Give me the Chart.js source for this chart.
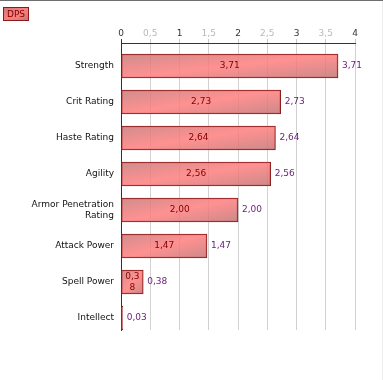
<!DOCTYPE html>
<html>
<head>
<meta charset="utf-8">
<script src="https://cdn.jsdelivr.net/npm/chart.js@4/dist/chart.umd.min.js"></script>
<style>
  html, body { margin: 0; padding: 0; background: #fff; }
  #wrap { position: relative; width: 383px; height: 380px; }
  canvas { display: block; }
</style>
</head>
<body>
<div id="wrap"><canvas id="c" width="383" height="380"></canvas></div>
<script>
// ---- data ----
const categories = ["Strength", "Crit Rating", "Haste Rating", "Agility", ["Armor Penetration", "Rating"], "Attack Power", "Spell Power", "Intellect"];
const dpsValues = [3.71, 2.73, 2.64, 2.56, 2.00, 1.47, 0.38, 0.03];
const seriesName = "DPS";
const xTicks = [0, 0.5, 1, 1.5, 2, 2.5, 3, 3.5, 4];

const FONT = "'DejaVu Sans', Verdana, sans-serif";
const fmt = v => v.toFixed(2).replace('.', ',');
const tickFmt = v => String(v).replace('.', ',');

function barGradient(ctx, x0, y0, x1, y1, alpha) {
  const fallback = `rgba(245,124,124,${alpha})`;
  if (![x0, y0, x1, y1].every(Number.isFinite)) return fallback;
  const w = x1 - x0, h = y1 - y0;
  const cx = (x0 + x1) / 2, cy = (y0 + y1) / 2;
  const len2 = w * w + h * h;
  if (!(len2 > 0)) return fallback;
  const k = w * h / len2;
  const g = ctx.createLinearGradient(cx - h * k, cy - w * k, cx + h * k, cy + w * k);
  g.addColorStop(0, `rgba(200,120,120,${alpha})`);
  g.addColorStop(0.5, `rgba(255,126,126,${alpha})`);
  g.addColorStop(1, `rgba(196,116,116,${alpha})`);
  return g;
}

const decorPlugin = {
  id: 'decor',
  afterDraw(chart) {
    const ctx = chart.ctx;
    ctx.save();
    ctx.fillStyle = '#6e6e6e';
    ctx.fillRect(0, 0, chart.width, 1);
    ctx.fillStyle = '#eeeeee';
    ctx.fillRect(chart.width - 1, 1, 1, chart.height - 1);
    const lx = 3, ly = 7, lw = 26, lh = 14;
    ctx.fillStyle = barGradient(ctx, lx, ly, lx + lw, ly + lh, 1);
    ctx.fillRect(lx, ly, lw, lh);
    ctx.strokeStyle = '#8b1a1a';
    ctx.lineWidth = 1;
    ctx.strokeRect(lx + 0.5, ly + 0.5, lw - 1, lh - 1);
    ctx.fillStyle = '#7a0000';
    ctx.font = '9px ' + FONT;
    ctx.textAlign = 'center';
    ctx.textBaseline = 'middle';
    ctx.fillText(seriesName, lx + lw / 2, ly + lh / 2 + 0.5);
    ctx.restore();
  },
  afterDatasetsDraw(chart) {
    const ctx = chart.ctx;
    const meta = chart.getDatasetMeta(0);
    ctx.save();
    ctx.font = '9px ' + FONT;
    ctx.textBaseline = 'middle';
    meta.data.forEach((el, i) => {
      const v = dpsValues[i];
      const txt = fmt(v);
      const left = Math.min(el.base, el.x), right = Math.max(el.base, el.x);
      const bw = right - left;
      const avail = bw - 4;
      const lines = [];
      let cur = '';
      let ok = true;
      for (const ch of txt) {
        if (ctx.measureText(cur + ch).width <= avail) cur += ch;
        else {
          if (!cur) { ok = false; break; }
          lines.push(cur); cur = ch;
          if (ctx.measureText(cur).width > avail) { ok = false; break; }
        }
      }
      if (cur) lines.push(cur);
      if (ok && lines.length) {
        ctx.fillStyle = '#800000';
        ctx.textAlign = 'center';
        const lh = 11;
        const y0 = el.y - (lines.length - 1) * lh / 2;
        lines.forEach((ln, j) => ctx.fillText(ln, (left + right) / 2, y0 + j * lh));
      }
      ctx.fillStyle = '#6a1b78';
      ctx.textAlign = 'left';
      ctx.fillText(txt, right + 4, el.y);
    });
    ctx.restore();
  }
};

new Chart(document.getElementById('c'), {
  type: 'bar',
  data: {
    datasets: [{
      label: seriesName,
      data: dpsValues.map((v, i) => ({ x: v, y: i })),
      barThickness: 24,
      borderWidth: 1,
      borderSkipped: false,
      borderColor: '#8b1a1a',
      backgroundColor(context) {
        const chart = context.chart;
        const xs = chart.scales && chart.scales.x, ys = chart.scales && chart.scales.y;
        if (!xs || !ys || !context.raw || !chart.chartArea) return 'rgba(245,124,124,0.85)';
        const yc = ys.getPixelForValue(context.raw.y);
        const x0 = xs.getPixelForValue(0), x1 = xs.getPixelForValue(context.raw.x);
        return barGradient(chart.ctx, x0, yc - 12, Math.max(x1, x0 + 1), yc + 12, 0.85);
      }
    }]
  },
  options: {
    indexAxis: 'y',
    responsive: false,
    maintainAspectRatio: false,
    animation: false,
    devicePixelRatio: 1,
    layout: { padding: { left: 0, top: 0, right: 28, bottom: 50 } },
    plugins: { legend: { display: false }, tooltip: { enabled: false } },
    scales: {
      x: {
        type: 'linear',
        position: 'top',
        min: 0, max: 4,
        afterBuildTicks(scale) { scale.ticks = xTicks.map(v => ({ value: v })); },
        afterFit(scale) { scale.height = 43; },
        ticks: {
          font: { family: FONT, size: 9 },
          padding: 0,
          callback: v => tickFmt(v),
          color: ctx => (ctx.tick && Number.isInteger(ctx.tick.value) ? '#333333' : '#b8b8b8')
        },
        grid: {
          color: '#d2d2d2',
          tickColor: ctx => (ctx.tick && ctx.tick.value === 0 ? '#333333' : '#c8c8c8'),
          tickLength: 4,
          drawTicks: true
        },
        border: { display: true, color: '#333333', width: 1 }
      },
      y: {
        type: 'linear',
        reverse: true,
        offset: false,
        min: -0.639, max: 7.333,
        afterBuildTicks(scale) { scale.ticks = categories.map((c, i) => ({ value: i })); },
        afterFit(scale) { scale.width = 121; },
        ticks: {
          font: { family: FONT, size: 9 },
          color: '#111111',
          padding: 7,
          callback: (v) => categories[v]
        },
        grid: { display: true, offset: false, color: 'rgba(0,0,0,0)', drawTicks: false },
        border: { display: true, color: '#333333', width: 1 }
      }
    }
  },
  plugins: [decorPlugin]
});
</script>
</body>
</html>
